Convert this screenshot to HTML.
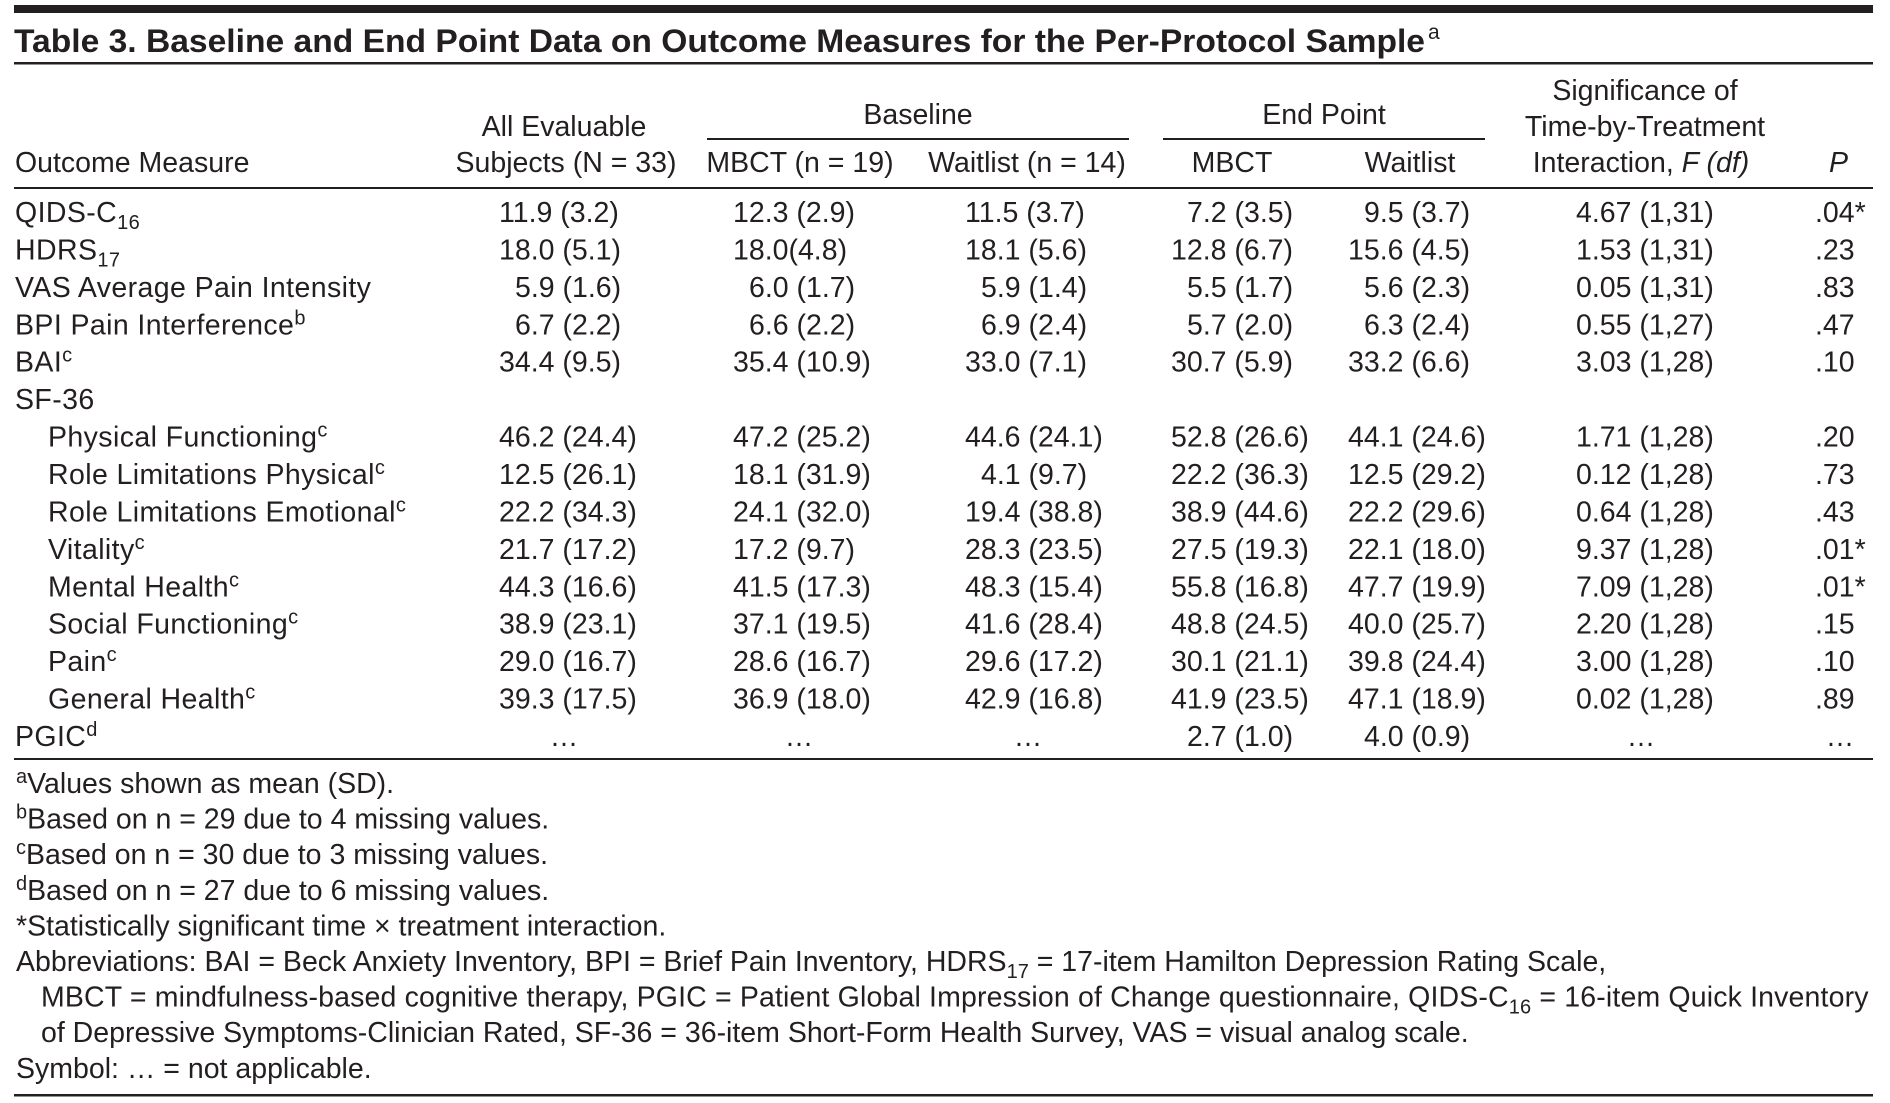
<!DOCTYPE html>
<html><head><meta charset="utf-8"><style>
html,body{margin:0;padding:0;background:#fff;}
svg{display:block;}
text{font-family:"Liberation Sans",sans-serif;fill:#231f20;font-size:28.5px;}
.b{font-weight:bold;font-size:32px;}
.sp{font-size:20px;}
.m{text-anchor:middle;}
.lb{letter-spacing:0.4px;}
</style></head><body>
<svg width="1890" height="1103" viewBox="0 0 1890 1103" xmlns="http://www.w3.org/2000/svg">
<rect x="0" y="0" width="1890" height="1103" fill="#fff"/>
<!-- rules -->
<rect x="14" y="5" width="1859" height="8" fill="#231f20"/>
<rect x="14" y="62" width="1859" height="2.5" fill="#231f20"/>
<rect x="707" y="138" width="422" height="2" fill="#231f20"/>
<rect x="1163" y="138" width="322" height="2" fill="#231f20"/>
<rect x="14" y="187" width="1859" height="2" fill="#231f20"/>
<rect x="14" y="758" width="1859" height="2" fill="#231f20"/>
<rect x="14" y="1094" width="1859" height="2.5" fill="#231f20"/>

<!-- title -->
<text class="b" x="14" y="52" textLength="1411" lengthAdjust="spacingAndGlyphs">Table 3. Baseline and End Point Data on Outcome Measures for the Per-Protocol Sample</text>
<text x="1428" y="39" style="font-size:21px">a</text>

<!-- header -->
<text x="15" y="172">Outcome Measure</text>
<text class="m" x="564" y="136">All Evaluable</text>
<text class="m" x="566" y="172">Subjects (N = 33)</text>
<text class="m" x="918" y="124">Baseline</text>
<text class="m" x="1324" y="124">End Point</text>
<text class="m" x="800" y="172">MBCT (n = 19)</text>
<text class="m" x="1027" y="172">Waitlist (n = 14)</text>
<text class="m" x="1232" y="172">MBCT</text>
<text class="m" x="1410" y="172">Waitlist</text>
<text class="m" x="1645" y="100">Significance of</text>
<text class="m" x="1645" y="136">Time-by-Treatment</text>
<text class="m" x="1641" y="172">Interaction, <tspan font-style="italic">F (df)</tspan></text>
<text x="1829" y="172" font-style="italic">P</text>

<!-- row labels -->
<g class="lb">
<text x="15" y="222">QIDS-C<tspan class="sp" dy="7">16</tspan></text>
<text x="15" y="259.4">HDRS<tspan class="sp" dy="7">17</tspan></text>
<text x="15" y="296.9">VAS Average Pain Intensity</text>
<text x="15" y="334.3">BPI Pain Interference<tspan class="sp" dy="-10">b</tspan></text>
<text x="15" y="371.7">BAI<tspan class="sp" dy="-10">c</tspan></text>
<text x="15" y="409.2">SF-36</text>
<text x="48" y="446.6">Physical Functioning<tspan class="sp" dy="-10">c</tspan></text>
<text x="48" y="484">Role Limitations Physical<tspan class="sp" dy="-10">c</tspan></text>
<text x="48" y="521.4">Role Limitations Emotional<tspan class="sp" dy="-10">c</tspan></text>
<text x="48" y="558.9">Vitality<tspan class="sp" dy="-10">c</tspan></text>
<text x="48" y="596.3">Mental Health<tspan class="sp" dy="-10">c</tspan></text>
<text x="48" y="633.7">Social Functioning<tspan class="sp" dy="-10">c</tspan></text>
<text x="48" y="671.2">Pain<tspan class="sp" dy="-10">c</tspan></text>
<text x="48" y="708.6">General Health<tspan class="sp" dy="-10">c</tspan></text>
<text x="15" y="746">PGIC<tspan class="sp" dy="-10">d</tspan></text>
</g>

<!-- data rows -->
<g transform="translate(0,222)">
<text x="499" y="0">11.9 (3.2)</text><text x="733" y="0">12.3 (2.9)</text><text x="965" y="0">11.5 (3.7)</text><text x="1187" y="0">7.2 (3.5)</text><text x="1364" y="0">9.5 (3.7)</text><text x="1576" y="0">4.67 (1,31)</text><text x="1815" y="0">.04*</text>
</g>
<g transform="translate(0,259.4)">
<text x="499" y="0">18.0 (5.1)</text><text x="733" y="0">18.0(4.8)</text><text x="965" y="0">18.1 (5.6)</text><text x="1171" y="0">12.8 (6.7)</text><text x="1348" y="0">15.6 (4.5)</text><text x="1576" y="0">1.53 (1,31)</text><text x="1815" y="0">.23</text>
</g>
<g transform="translate(0,296.9)">
<text x="515" y="0">5.9 (1.6)</text><text x="749" y="0">6.0 (1.7)</text><text x="981" y="0">5.9 (1.4)</text><text x="1187" y="0">5.5 (1.7)</text><text x="1364" y="0">5.6 (2.3)</text><text x="1576" y="0">0.05 (1,31)</text><text x="1815" y="0">.83</text>
</g>
<g transform="translate(0,334.3)">
<text x="515" y="0">6.7 (2.2)</text><text x="749" y="0">6.6 (2.2)</text><text x="981" y="0">6.9 (2.4)</text><text x="1187" y="0">5.7 (2.0)</text><text x="1364" y="0">6.3 (2.4)</text><text x="1576" y="0">0.55 (1,27)</text><text x="1815" y="0">.47</text>
</g>
<g transform="translate(0,371.7)">
<text x="499" y="0">34.4 (9.5)</text><text x="733" y="0">35.4 (10.9)</text><text x="965" y="0">33.0 (7.1)</text><text x="1171" y="0">30.7 (5.9)</text><text x="1348" y="0">33.2 (6.6)</text><text x="1576" y="0">3.03 (1,28)</text><text x="1815" y="0">.10</text>
</g>
<g transform="translate(0,446.6)">
<text x="499" y="0">46.2 (24.4)</text><text x="733" y="0">47.2 (25.2)</text><text x="965" y="0">44.6 (24.1)</text><text x="1171" y="0">52.8 (26.6)</text><text x="1348" y="0">44.1 (24.6)</text><text x="1576" y="0">1.71 (1,28)</text><text x="1815" y="0">.20</text>
</g>
<g transform="translate(0,484)">
<text x="499" y="0">12.5 (26.1)</text><text x="733" y="0">18.1 (31.9)</text><text x="981" y="0">4.1 (9.7)</text><text x="1171" y="0">22.2 (36.3)</text><text x="1348" y="0">12.5 (29.2)</text><text x="1576" y="0">0.12 (1,28)</text><text x="1815" y="0">.73</text>
</g>
<g transform="translate(0,521.4)">
<text x="499" y="0">22.2 (34.3)</text><text x="733" y="0">24.1 (32.0)</text><text x="965" y="0">19.4 (38.8)</text><text x="1171" y="0">38.9 (44.6)</text><text x="1348" y="0">22.2 (29.6)</text><text x="1576" y="0">0.64 (1,28)</text><text x="1815" y="0">.43</text>
</g>
<g transform="translate(0,558.9)">
<text x="499" y="0">21.7 (17.2)</text><text x="733" y="0">17.2 (9.7)</text><text x="965" y="0">28.3 (23.5)</text><text x="1171" y="0">27.5 (19.3)</text><text x="1348" y="0">22.1 (18.0)</text><text x="1576" y="0">9.37 (1,28)</text><text x="1815" y="0">.01*</text>
</g>
<g transform="translate(0,596.3)">
<text x="499" y="0">44.3 (16.6)</text><text x="733" y="0">41.5 (17.3)</text><text x="965" y="0">48.3 (15.4)</text><text x="1171" y="0">55.8 (16.8)</text><text x="1348" y="0">47.7 (19.9)</text><text x="1576" y="0">7.09 (1,28)</text><text x="1815" y="0">.01*</text>
</g>
<g transform="translate(0,633.7)">
<text x="499" y="0">38.9 (23.1)</text><text x="733" y="0">37.1 (19.5)</text><text x="965" y="0">41.6 (28.4)</text><text x="1171" y="0">48.8 (24.5)</text><text x="1348" y="0">40.0 (25.7)</text><text x="1576" y="0">2.20 (1,28)</text><text x="1815" y="0">.15</text>
</g>
<g transform="translate(0,671.2)">
<text x="499" y="0">29.0 (16.7)</text><text x="733" y="0">28.6 (16.7)</text><text x="965" y="0">29.6 (17.2)</text><text x="1171" y="0">30.1 (21.1)</text><text x="1348" y="0">39.8 (24.4)</text><text x="1576" y="0">3.00 (1,28)</text><text x="1815" y="0">.10</text>
</g>
<g transform="translate(0,708.6)">
<text x="499" y="0">39.3 (17.5)</text><text x="733" y="0">36.9 (18.0)</text><text x="965" y="0">42.9 (16.8)</text><text x="1171" y="0">41.9 (23.5)</text><text x="1348" y="0">47.1 (18.9)</text><text x="1576" y="0">0.02 (1,28)</text><text x="1815" y="0">.89</text>
</g>
<g transform="translate(0,746)">
<text class="m" x="564" y="0">…</text><text class="m" x="799" y="0">…</text><text class="m" x="1028" y="0">…</text><text x="1187" y="0">2.7 (1.0)</text><text x="1364" y="0">4.0 (0.9)</text><text class="m" x="1641" y="0">…</text><text class="m" x="1840" y="0">…</text>
</g>

<!-- footnotes -->
<text x="16" y="793"><tspan class="sp" dy="-10">a</tspan><tspan dy="10">Values shown as mean (SD).</tspan></text>
<text x="16" y="828.6"><tspan class="sp" dy="-10">b</tspan><tspan dy="10">Based on n = 29 due to 4 missing values.</tspan></text>
<text x="16" y="864.2"><tspan class="sp" dy="-10">c</tspan><tspan dy="10">Based on n = 30 due to 3 missing values.</tspan></text>
<text x="16" y="899.8"><tspan class="sp" dy="-10">d</tspan><tspan dy="10">Based on n = 27 due to 6 missing values.</tspan></text>
<text x="16" y="935.4">*Statistically significant time × treatment interaction.</text>
<text x="16" y="971">Abbreviations: BAI = Beck Anxiety Inventory, BPI = Brief Pain Inventory, HDRS<tspan class="sp" dy="7">17</tspan><tspan dy="-7"> = 17-item Hamilton Depression Rating Scale,</tspan></text>
<text x="41" y="1006.6" style="letter-spacing:0.15px">MBCT = mindfulness-based cognitive therapy, PGIC = Patient Global Impression of Change questionnaire, QIDS-C<tspan class="sp" dy="7">16</tspan><tspan dy="-7"> = 16-item Quick Inventory</tspan></text>
<text x="41" y="1042.2">of Depressive Symptoms-Clinician Rated, SF-36 = 36-item Short-Form Health Survey, VAS = visual analog scale.</text>
<text x="16" y="1077.8">Symbol: … = not applicable.</text>
</svg>
</body></html>
